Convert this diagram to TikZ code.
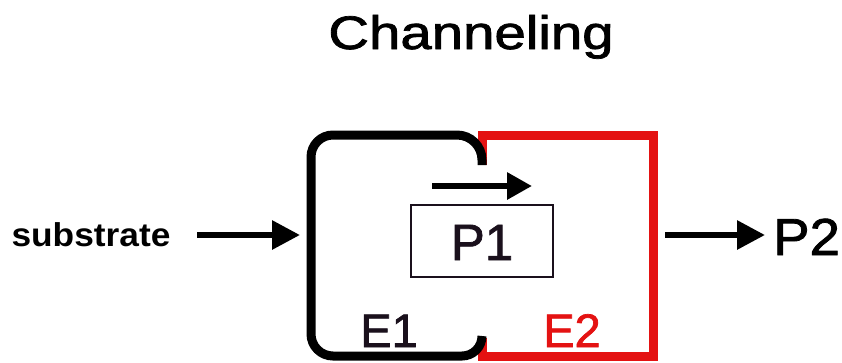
\documentclass[tikz,border=0pt]{standalone}
\usepackage{fontspec}
\setmainfont{Liberation Sans}
\newfontfamily\medfont{Liberation Sans}[FakeBold=1.5]
\usetikzlibrary{arrows.meta}
\definecolor{ered}{RGB}{228,18,18}
\definecolor{dk}{RGB}{26,16,28}
\tikzset{
  lbl/.style={inner sep=0pt, anchor=base},
  flow/.style={line width=6pt, -{Triangle[length=28pt,width=28pt]}},
  enzE/.style={line width=9pt},
}
\begin{document}
\begin{tikzpicture}[x=1pt,y=1pt]
\useasboundingbox (0,0) rectangle (842,-362);
% title
\node[lbl] (title) at (471,-49) {\medfont\fontsize{47}{50}\selectfont\scalebox{1.2}[1]{Channeling}};
% E2 (red)
\draw[enzE, ered] (482,-165) -- (482,-135) -- (653,-135) -- (653,-356) -- (482,-356) -- (482,-338);
% E1 (black)
\draw[enzE, black] (482,-165) -- (482,-160) arc (0:90:25) -- (333,-135) arc (90:180:22)
  -- (311,-334) arc (180:270:22) -- (462,-356) arc (270:360:20);
% labels
\node[lbl, text=dk] (e1) at (389,-347) {\medfont\fontsize{47}{50}\selectfont E1};
\node[lbl, text=ered] (e2) at (572,-347) {\medfont\fontsize{47}{50}\selectfont E2};
% P1 box
\node[draw=dk, line width=2.6pt, minimum width=142pt, minimum height=72pt, inner sep=0pt] (p1box) at (482,-241) {};
\node[lbl, text=dk] (p1) at (482,-260) {\medfont\fontsize{51}{54}\selectfont P1};
% substrate and P2
\node[lbl] (sub) at (91,-246) {\fontsize{33}{36}\selectfont\bfseries\scalebox{1.07}[1]{substrate}};
\node[lbl, anchor=base west] (p2) at (773,-255) {\medfont\fontsize{52}{56}\selectfont\scalebox{1.05}[1]{P2}};
% arrows
\coordinate (sa) at (197,-235);
\coordinate (sb) at (300,-235);
\coordinate (pa) at (665,-235);
\coordinate (pb) at (765,-235);
\coordinate (ca) at (432,-186);
\coordinate (cb) at (532,-186);
\draw[flow] (sa) -- (sb);
\draw[flow] (pa) -- (pb);
\draw[flow, -{Triangle[length=25pt,width=26pt]}] (ca) -- (cb);
\end{tikzpicture}
\end{document}
